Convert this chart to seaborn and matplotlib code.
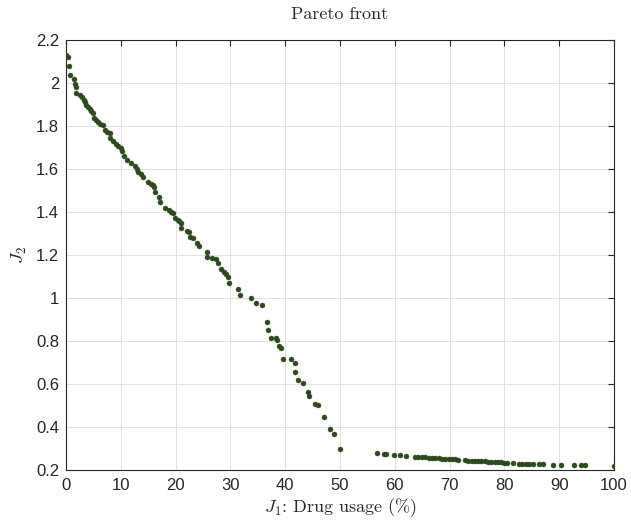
import matplotlib
matplotlib.use("Agg")
import matplotlib.pyplot as plt
import seaborn as sns
import pandas as pd
from matplotlib.ticker import FuncFormatter

# ---- data ----
j1 = [0.0, 0.3, 0.5, 0.8, 1.4, 1.7, 1.9, 1.9, 2.6, 2.9, 3.2, 3.4, 3.7, 4.0, 4.3,
      4.5, 4.9, 5.2, 5.5, 5.9, 6.2, 6.7, 7.1, 7.5, 8.0, 8.1, 8.6, 9.1, 9.5,
      10.1, 10.3, 10.6, 11.1, 11.9, 12.5, 12.9, 13.2, 13.6, 14.1, 14.9,
      15.6, 15.8, 16.1, 16.2, 17.0, 17.1, 18.1, 18.8, 19.1, 19.5, 19.9, 20.4,
      20.7, 20.9, 21.0, 22.1, 22.4, 22.6, 23.2, 23.9, 24.3, 25.8, 25.8, 26.7,
      27.3, 27.7, 28.3, 28.8, 29.2, 29.5, 29.7, 31.4, 31.7, 33.7, 34.6, 35.8,
      36.7, 36.9, 37.4, 38.3, 38.5, 38.9, 39.2, 39.6, 41.0, 41.7, 41.7, 42.3,
      43.2, 44.1, 44.3, 45.4, 45.9, 47.0, 48.1, 48.9, 50.0,
      56.8, 58.1, 58.4, 59.9, 61.0, 62.1, 63.7, 64.3, 64.9, 65.5, 66.2, 66.8,
      67.4, 68.0, 68.6, 69.2, 69.8, 70.4, 71.0, 71.5, 72.8, 73.4, 74.0, 74.6,
      75.2, 75.8, 76.4, 77.0, 77.6, 78.2, 78.8, 79.4, 80.0, 80.5, 81.5, 82.7,
      83.3, 83.9, 84.5, 85.2, 86.3, 87.1, 88.8, 90.3, 92.7, 93.9, 94.7, 100.0]
j2 = [2.13, 2.12, 2.08, 2.035, 2.02, 1.995, 1.98, 1.955, 1.945, 1.934, 1.923,
      1.91, 1.90, 1.89, 1.88, 1.868, 1.86, 1.837, 1.828, 1.818, 1.81, 1.803,
      1.78, 1.77, 1.768, 1.745, 1.73, 1.717, 1.708, 1.70, 1.683, 1.66, 1.643,
      1.63, 1.615, 1.60, 1.584, 1.575, 1.563, 1.538, 1.532, 1.525, 1.515,
      1.492, 1.47, 1.446, 1.418, 1.407, 1.40, 1.394, 1.37, 1.364, 1.36, 1.349,
      1.324, 1.31, 1.307, 1.286, 1.277, 1.254, 1.24, 1.213, 1.19, 1.184, 1.182,
      1.163, 1.135, 1.122, 1.113, 1.10, 1.069, 1.04, 1.012, 1.0, 0.976, 0.967,
      0.89, 0.849, 0.815, 0.813, 0.806, 0.776, 0.769, 0.716, 0.715, 0.697,
      0.656, 0.619, 0.606, 0.561, 0.546, 0.509, 0.501, 0.447, 0.39, 0.367,
      0.298,
      0.279, 0.276, 0.276, 0.271, 0.268, 0.265, 0.262, 0.261, 0.260, 0.259,
      0.257, 0.256, 0.255, 0.254, 0.253, 0.252, 0.251, 0.250, 0.249, 0.248,
      0.245, 0.244, 0.243, 0.242, 0.242, 0.241, 0.240, 0.239, 0.238, 0.237,
      0.236, 0.235, 0.234, 0.233, 0.231, 0.230, 0.229, 0.229, 0.228, 0.228,
      0.226, 0.226, 0.224, 0.223, 0.222, 0.222, 0.222, 0.219]

xticks = [0, 10, 20, 30, 40, 50, 60, 70, 80, 90, 100]
yticks = [0.2, 0.4, 0.6, 0.8, 1.0, 1.2, 1.4, 1.6, 1.8, 2.0, 2.2]

df = pd.DataFrame({"J1": j1, "J2": j2})

sns.set_style("white")
plt.rcParams["font.family"] = ["Liberation Sans", "DejaVu Sans"]
plt.rcParams["mathtext.fontset"] = "cm"

fig = plt.figure(figsize=(6.31, 5.22), dpi=100)
ax = fig.add_axes([66 / 631, 1 - 470 / 522, (614 - 66) / 631, (470 - 40) / 522])

sns.scatterplot(data=df, x="J1", y="J2", ax=ax, color="#2c4a1d",
                s=13, edgecolor="#2c4a1d", linewidth=0.3, zorder=3)

ax.set_xlim(0, 100)
ax.set_ylim(0.2, 2.2)
ax.set_xticks(xticks)
ax.set_yticks(yticks)
ax.yaxis.set_major_formatter(FuncFormatter(lambda v, p: f"{v:g}"))
ax.grid(True, color="#e2e2e2", linewidth=0.7)
ax.set_axisbelow(True)

for sp in ax.spines.values():
    sp.set_visible(True)
    sp.set_color("#262626")
    sp.set_linewidth(0.8)

ax.tick_params(axis="both", direction="in", length=4, width=0.8,
               top=True, right=True, labelsize=12, colors="#262626",
               labelcolor="#262626")
ax.tick_params(axis="x", pad=6)
ax.tick_params(axis="y", pad=5)

serif = ["cmr10", "DejaVu Serif"]
ax.set_title("Pareto front", fontsize=13, pad=15, family=serif)
ax.set_xlabel(r"$J_1$: Drug usage (%)", fontsize=13, labelpad=2, family=serif)
ax.set_ylabel(r"$J_2$", fontsize=13, labelpad=5)

fig.savefig("out.png", dpi=100, facecolor="white")
